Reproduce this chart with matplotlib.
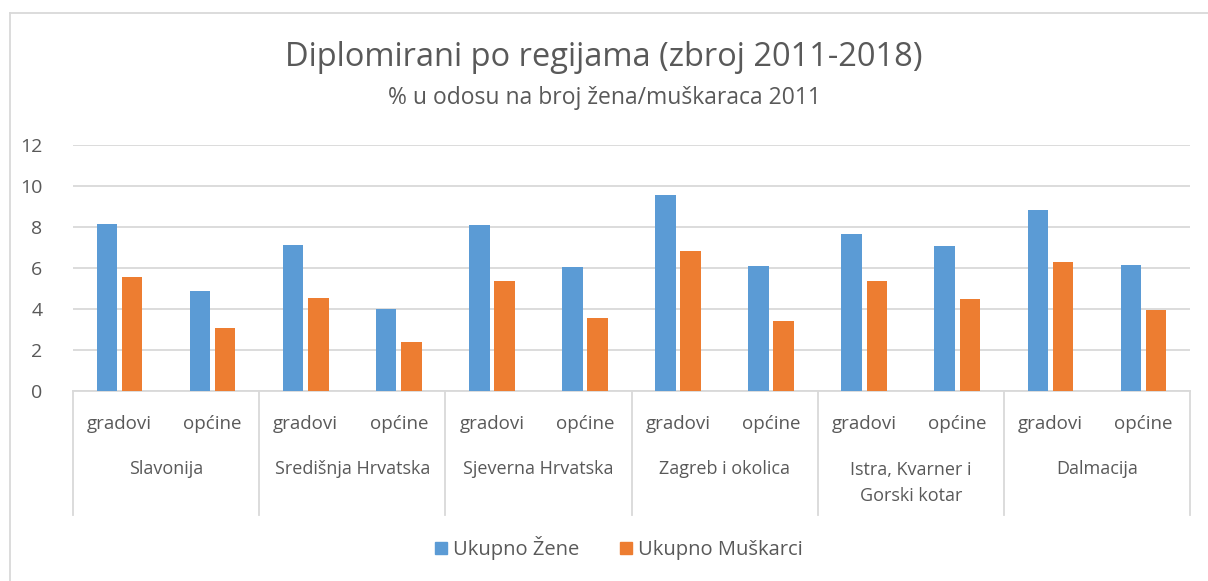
import numpy as np
import matplotlib.pyplot as plt
from matplotlib.lines import Line2D
from matplotlib.patches import Patch
import matplotlib.transforms as mtransforms

plt.rcParams['font.family'] = ['Open Sans', 'DejaVu Sans']

regions = ['Slavonija', 'Središnja Hrvatska', 'Sjeverna Hrvatska',
           'Zagreb i okolica', 'Istra, Kvarner i\nGorski kotar', 'Dalmacija']
subcats = ['gradovi', 'općine']
zene = [8.13, 4.89, 7.14, 4.02, 8.10, 6.07, 9.54, 6.10, 7.66, 7.07, 8.85, 6.16]
muskarci = [5.56, 3.07, 4.54, 2.41, 5.37, 3.54, 6.83, 3.41, 5.37, 4.50, 6.29, 3.95]

text_c = '#595959'
grid_c = '#d9d9d9'
blue = '#5b9bd5'
orange = '#ed7d31'

W, H = 1208, 581
fig = plt.figure(figsize=(W / 100, H / 100), dpi=100)
ax = fig.add_axes([73 / W, 1 - 391 / H, (1190 - 73) / W, (391 - 145) / H])

x = np.arange(len(zene))
w = 0.22
ax.bar(x - 0.135, zene, w, color=blue, zorder=3, label='Ukupno Žene')
ax.bar(x + 0.135, muskarci, w, color=orange, zorder=3, label='Ukupno Muškarci')

ax.set_xlim(-0.5, len(zene) - 0.5)
ax.set_ylim(0, 12)
ax.set_yticks(range(0, 13, 2))
ax.yaxis.grid(True, color=grid_c, lw=1.3, zorder=0)
ax.set_axisbelow(True)
for s in ['top', 'right', 'left']:
    ax.spines[s].set_visible(False)
ax.spines['bottom'].set_color(grid_c)
ax.spines['bottom'].set_linewidth(1.3)
ax.tick_params(axis='y', length=0, pad=22, labelsize=14, labelcolor=text_c)
ax.set_xticks([])

# two-level category axis
trans = mtransforms.blended_transform_factory(ax.transData, ax.transAxes)
ax_h = 391 - 145
for b in np.arange(-0.5, len(zene), 2):
    ax.add_line(Line2D([b, b], [0, -(515 - 391) / ax_h], transform=trans,
                       color=grid_c, lw=1.3, clip_on=False))
for i in x:
    ax.text(i, -(424 - 391) / ax_h, subcats[i % 2], transform=trans,
            ha='center', va='center', fontsize=13.5, color=text_c)
for j, r in enumerate(regions):
    y = 469 if '\n' not in r else 483
    ax.text(2 * j + 0.5, -(y - 391) / ax_h, r, transform=trans,
            ha='center', va='center', fontsize=13, color=text_c, linespacing=1.55)

fig.text(0.5, 1 - 58 / H, 'Diplomirani po regijama (zbroj 2011-2018)',
         ha='center', va='center', fontsize=23.5, color=text_c)
fig.text(0.5, 1 - 98 / H, '% u odosu na broj žena/muškaraca 2011',
         ha='center', va='center', fontsize=16.5, color=text_c)

handles = [Patch(color=blue), Patch(color=orange)]
fig.legend(handles, ['Ukupno Žene', 'Ukupno Muškarci'], loc='center',
           bbox_to_anchor=(619 / W, 1 - 548 / H), ncol=2, frameon=False,
           fontsize=14.5, labelcolor=text_c, handlelength=0.6, handleheight=0.6,
           handletextpad=0.3, columnspacing=2.0)

# chart frame
fig.add_artist(Line2D([9.5 / W, 9.5 / W], [0, 1 - 12.5 / H], transform=fig.transFigure,
                      color=grid_c, lw=1.3))
fig.add_artist(Line2D([9.5 / W, 1], [1 - 12.5 / H, 1 - 12.5 / H], transform=fig.transFigure,
                      color=grid_c, lw=1.3))

fig.savefig('out.png', dpi=100)
